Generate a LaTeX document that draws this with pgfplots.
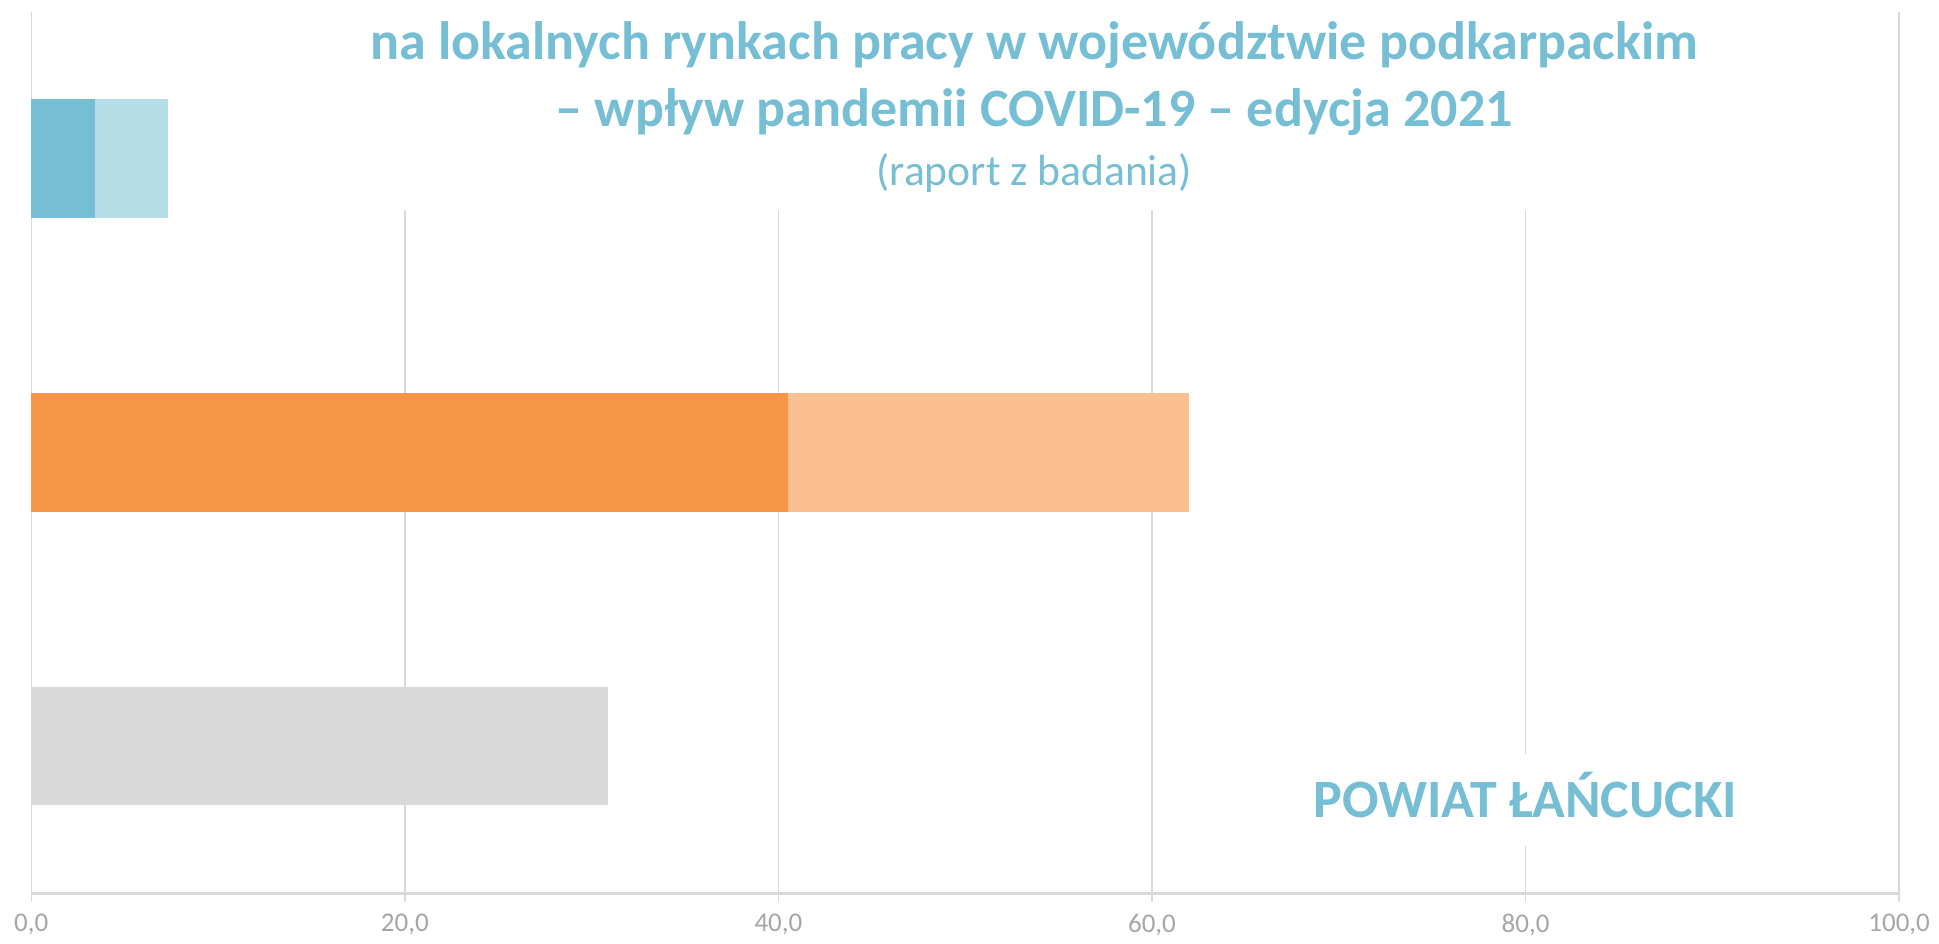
\documentclass[border=0pt]{standalone}
\usepackage{fontspec}
\setmainfont{Carlito}
\usepackage{pgfplots}
\pgfplotsset{compat=1.18}
\definecolor{tblue}{HTML}{75BED4}
\definecolor{lblue}{HTML}{B7DEE8}
\definecolor{dorange}{HTML}{F79646}
\definecolor{lorange}{HTML}{FAC090}
\definecolor{bgrey}{HTML}{D9D9D9}
\definecolor{gridc}{HTML}{D9D9D9}
\definecolor{labc}{HTML}{A6A6A6}
\begin{document}
\begin{tikzpicture}
\begin{axis}[
 set layers,
 at={(15.65pt,25pt)}, anchor=south west,
 width=933.9pt, height=440.6pt, scale only axis,
 xmin=0, xmax=100, ymin=-0.5, ymax=2.5,
 xtick={0,20,...,100},
 ytick=\empty,
 axis x line*=bottom, axis y line=none,
 xmajorgrids, major grid style={gridc, line width=0.75pt},
 axis line style={gridc, line width=1.5pt},
 tick style={gridc, line width=0.75pt},
 tick align=outside, major tick length=4.5pt,
 xticklabel style={font=\fontsize{13.5}{16}\selectfont, text=labc, yshift=-2.5pt, /pgf/number format/.cd, fixed, fixed zerofill, precision=1, use comma, assume math mode=true},
 xbar, bar width=0.404, bar shift=0pt,
 clip=false,
]
\begin{pgfonlayer}{pre main}
\fill[white] (axis cs:10,1.825) rectangle (axis cs:95,2.52);
\node[anchor=base, text=tblue, font=\bfseries\fontsize{27}{32}\selectfont] at (axis cs:53.7,2.339) {na lokalnych rynkach pracy w województwie podkarpackim};
\node[anchor=base, text=tblue, font=\bfseries\fontsize{27}{32}\selectfont] at (axis cs:53.7,2.108) {– wpływ pandemii COVID-19 – edycja 2021};
\node[anchor=base, text=tblue, font=\fontsize{21.8}{26}\selectfont] at (axis cs:53.7,1.91) {(raport z badania)};
\node[fill=white, text=tblue, font=\bfseries\fontsize{27}{30}\selectfont, text height=17.5pt, text depth=0pt, minimum height=46pt, inner xsep=6pt] at (axis cs:80,-0.185) {POWIAT ŁAŃCUCKI};
\end{pgfonlayer}
\addplot[fill=lblue, draw=none] coordinates {(7.3,2)};
\addplot[fill=tblue, draw=none] coordinates {(3.4,2)};
\addplot[fill=lorange, draw=none] coordinates {(62.0,1)};
\addplot[fill=dorange, draw=none] coordinates {(40.5,1)};
\addplot[fill=bgrey, draw=none] coordinates {(30.9,0)};
\end{axis}
\pgfresetboundingbox
\path[use as bounding box] (0,0) rectangle (969.5pt,471.5pt);
\end{tikzpicture}
\end{document}
